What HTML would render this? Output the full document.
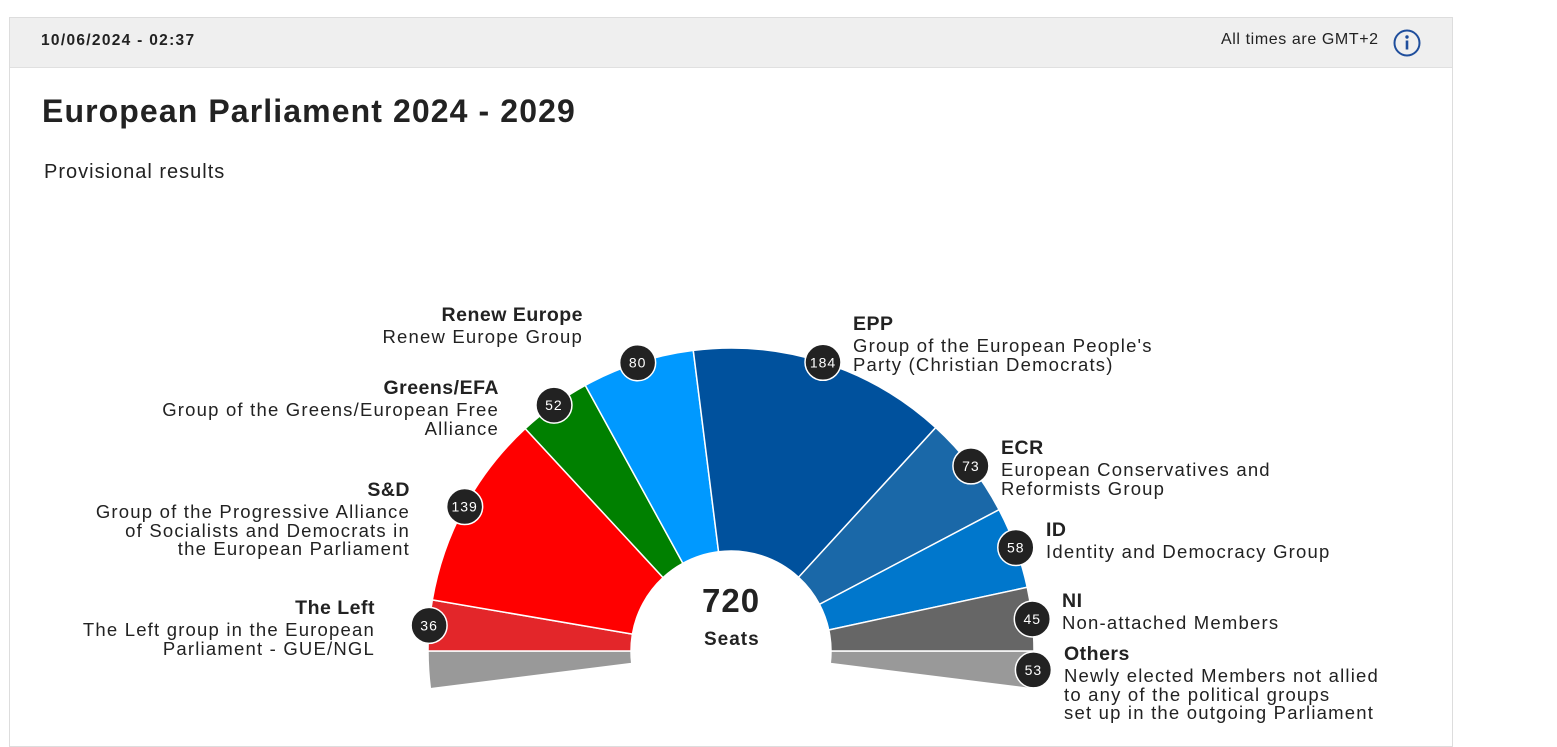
<!DOCTYPE html>
<html><head><meta charset="utf-8"><style>
body{margin:0;width:1557px;height:731px;background:#fff;font-family:"Liberation Sans",sans-serif;color:#222;overflow:hidden;position:relative;letter-spacing:1.2px}
.card{position:absolute;left:9px;top:17px;width:1444px;height:730px;border:1px solid #ddd;box-sizing:border-box}
.hdr{position:absolute;left:10px;top:18px;width:1442px;height:49px;background:#efefef;border-bottom:1px solid #e0e0e0}
.t{position:absolute;white-space:nowrap;font-size:18.5px;line-height:18.5px}
.r{text-align:right}
.t b{display:block;font-size:19.5px;line-height:20px;letter-spacing:0.5px;margin-bottom:3px}
</style></head><body>
<div class="card"></div>
<div class="hdr"></div>
<div class="t" style="left:41px;top:32px;font-size:15.5px;font-weight:bold;letter-spacing:1.3px">10/06/2024 - 02:37</div>
<div class="t" style="left:1221px;top:31px;font-size:16px;letter-spacing:0.6px">All times are GMT+2</div>
<svg style="position:absolute;left:1392px;top:28px" width="30" height="30"><circle cx="15" cy="15" r="12.5" fill="none" stroke="#1f4e9c" stroke-width="2"/><circle cx="15" cy="9" r="1.7" fill="#1f4e9c"/><rect x="13.7" y="12.5" width="2.6" height="9" fill="#1f4e9c"/></svg>
<div class="t" style="left:42px;top:93px;font-size:32px;line-height:36px;font-weight:bold;letter-spacing:1.1px">European Parliament 2024 - 2029</div>
<div class="t" style="left:44px;top:162px;font-size:20px;line-height:20px;letter-spacing:1px">Provisional results</div>
<svg id="s" style="position:absolute;left:0;top:0" width="1557" height="731"></svg>
<div class="t" style="left:702px;top:583px;font-size:33px;line-height:36px;font-weight:bold;letter-spacing:1px">720</div>
<div class="t" style="left:704px;top:631px;font-size:19px;font-weight:bold;letter-spacing:1px">Seats</div>

<div class="t r" style="right:974px;top:305px"><b>Renew Europe</b>Renew Europe Group</div>
<div class="t r" style="right:1058px;top:378px"><b>Greens/EFA</b>Group of the Greens/European Free<br>Alliance</div>
<div class="t r" style="right:1147px;top:480px"><b>S&amp;D</b>Group of the Progressive Alliance<br>of Socialists and Democrats in<br>the European Parliament</div>
<div class="t r" style="right:1182px;top:598px"><b>The Left</b>The Left group in the European<br>Parliament - GUE/NGL</div>
<div class="t" style="left:853px;top:314px"><b>EPP</b>Group of the European People's<br>Party (Christian Democrats)</div>
<div class="t" style="left:1001px;top:438px"><b>ECR</b>European Conservatives and<br>Reformists Group</div>
<div class="t" style="left:1046px;top:520px"><b>ID</b>Identity and Democracy Group</div>
<div class="t" style="left:1062px;top:591px"><b>NI</b>Non-attached Members</div>
<div class="t" style="left:1064px;top:644px"><b>Others</b>Newly elected Members not allied<br>to any of the political groups<br>set up in the outgoing Parliament</div>
<script>
var cx=731,cy=651,R=303,r=100,tot=667;
var d=[[36,"#e3262a"],[139,"#ff0000"],[52,"#008000"],[80,"#0099ff"],[184,"#00519d"],[73,"#1a68a8"],[58,"#0077cc"],[45,"#666666"]];
var s=document.getElementById('s'),h='';
function P(a,rad){return [cx-rad*Math.cos(a),cy-rad*Math.sin(a)];}
function seg(a0,a1,c){var p=P(a0,R),q=P(a1,R),u=P(a1,r),v=P(a0,r);
return '<path d="M'+p+' A'+R+','+R+' 0 0 1 '+q+' L'+u+' A'+r+','+r+' 0 0 0 '+v+'Z" fill="'+c+'" stroke="#fff" stroke-width="1.5"/>';}
var o=53/tot*Math.PI/2;
h+=seg(-o,0,"#999");h+=seg(Math.PI,Math.PI+o,"#999");
var a=0,b=[];
d.forEach(function(x){var w=x[0]/tot*Math.PI;h+=seg(a,a+w,x[1]);b.push([a+w/2,x[0]]);a+=w;});
b.push([Math.PI+o/2,53]);
b.forEach(function(x){var p=P(x[0],R);h+='<circle cx="'+p[0]+'" cy="'+p[1]+'" r="18" fill="#222" stroke="#fff" stroke-width="1.5"/><text x="'+p[0]+'" y="'+(p[1]+5)+'" text-anchor="middle" font-family="Liberation Sans" font-size="14" letter-spacing="1" fill="#fff">'+x[1]+'</text>';});
s.innerHTML=h;
</script>
</body></html>
